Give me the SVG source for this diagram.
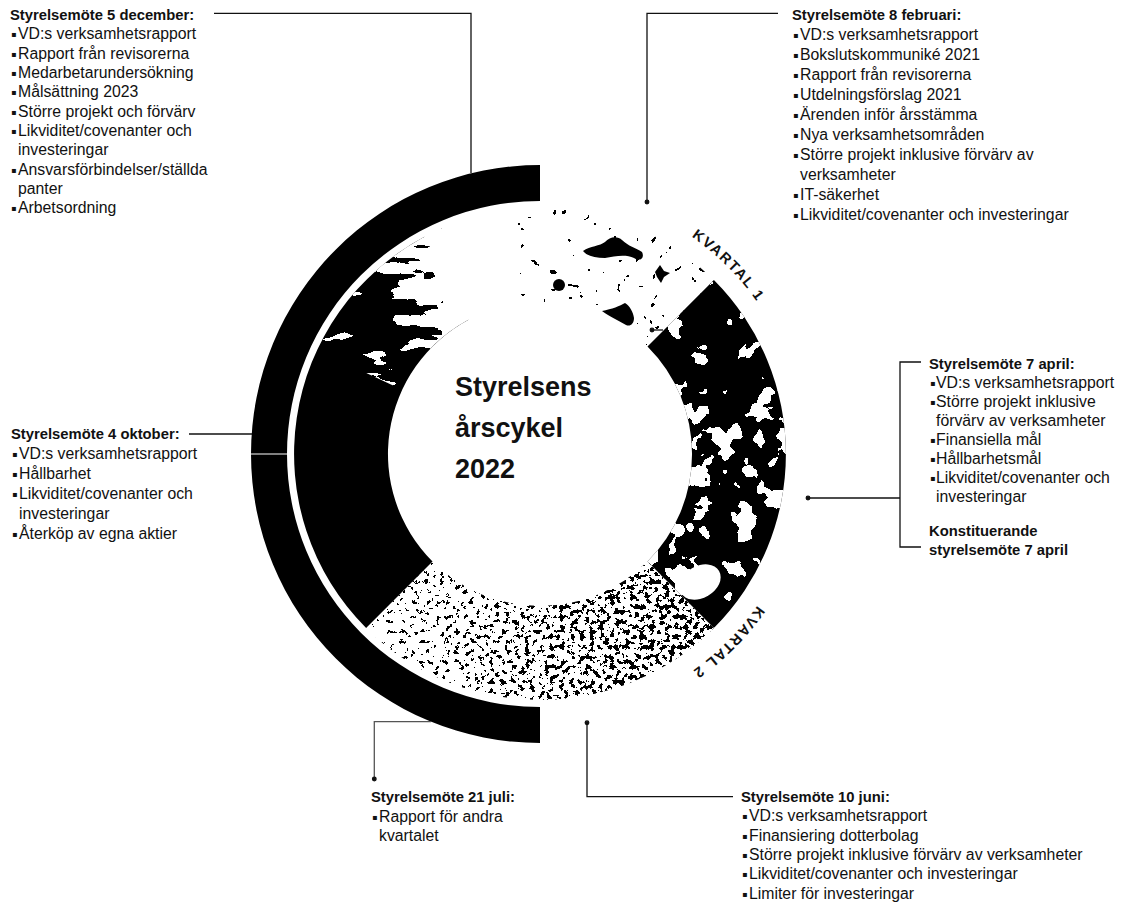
<svg xmlns="http://www.w3.org/2000/svg" width="1122" height="905" viewBox="0 0 1122 905">
<style>
.t{font-family:"Liberation Sans",Arial,sans-serif;font-size:15.8px;fill:#111}
.h{font-family:"Liberation Sans",Arial,sans-serif;font-size:14.8px;font-weight:bold;fill:#111}
.b{font-family:"DejaVu Sans",sans-serif;font-size:8px}
.c{fill:none;stroke:#111;stroke-width:1.3}
.d{fill:#111}
.q{font-family:"Liberation Sans",Arial,sans-serif;font-size:14.5px;font-weight:bold;letter-spacing:1.6px;fill:#111}
.big{font-family:"Liberation Sans",Arial,sans-serif;font-size:27px;font-weight:bold;fill:#111}
.k{fill:#000}
</style>
<defs>
<filter id="fSpeck" x="0" y="0" width="1" height="1" color-interpolation-filters="sRGB">
<feTurbulence type="fractalNoise" baseFrequency="0.2" numOctaves="4" seed="11" result="n"/>
<feColorMatrix in="n" type="matrix" values="1 0 0 0 0 0 1 0 0 0 0 0 1 0 0 0 0 0 0 1" result="n1"/>
<feComposite in="n1" in2="SourceGraphic" operator="arithmetic" k1="0" k2="1" k3="1" k4="-0.5" result="s"/>
<feColorMatrix in="s" type="matrix" values="0 0 0 0 0 0 0 0 0 0 0 0 0 0 0 1 0 0 0 0" result="a"/>
<feComponentTransfer in="a"><feFuncA type="discrete" tableValues="0 1"/></feComponentTransfer>
</filter>
<filter id="fHoles" x="0" y="0" width="1" height="1" color-interpolation-filters="sRGB">
<feTurbulence type="fractalNoise" baseFrequency="0.045" numOctaves="3" seed="4" result="n"/>
<feColorMatrix in="n" type="matrix" values="1 0 0 0 0 0 1 0 0 0 0 0 1 0 0 0 0 0 0 1" result="n1"/>
<feComposite in="n1" in2="SourceGraphic" operator="arithmetic" k1="0" k2="1" k3="1" k4="-0.5" result="s"/>
<feColorMatrix in="s" type="matrix" values="0 0 0 0 1 0 0 0 0 1 0 0 0 0 1 1 0 0 0 0" result="a"/>
<feComponentTransfer in="a"><feFuncA type="discrete" tableValues="0 1"/></feComponentTransfer>
</filter>
<filter id="fStreak" x="0" y="0" width="1" height="1" color-interpolation-filters="sRGB">
<feTurbulence type="fractalNoise" baseFrequency="0.02 0.07" numOctaves="3" seed="8" result="n"/>
<feColorMatrix in="n" type="matrix" values="1 0 0 0 0 0 1 0 0 0 0 0 1 0 0 0 0 0 0 1" result="n1"/>
<feComposite in="n1" in2="SourceGraphic" operator="arithmetic" k1="0" k2="1" k3="1" k4="-0.5" result="s"/>
<feColorMatrix in="s" type="matrix" values="0 0 0 0 1 0 0 0 0 1 0 0 0 0 1 1 0 0 0 0" result="a"/>
<feComponentTransfer in="a"><feFuncA type="discrete" tableValues="0 1"/></feComponentTransfer>
</filter>
<filter id="fDots" x="0" y="0" width="1" height="1" color-interpolation-filters="sRGB">
<feTurbulence type="fractalNoise" baseFrequency="0.12" numOctaves="2" seed="21" result="n"/>
<feColorMatrix in="n" type="matrix" values="1 0 0 0 0 0 1 0 0 0 0 0 1 0 0 0 0 0 0 1" result="n1"/>
<feComposite in="n1" in2="SourceGraphic" operator="arithmetic" k1="0" k2="1" k3="1" k4="-0.5" result="s"/>
<feColorMatrix in="s" type="matrix" values="0 0 0 0 0 0 0 0 0 0 0 0 0 0 0 1 0 0 0 0" result="a"/>
<feComponentTransfer in="a"><feFuncA type="discrete" tableValues="0 1"/></feComponentTransfer>
</filter>
<linearGradient id="gSpeck" gradientUnits="userSpaceOnUse" x1="714" y1="0" x2="366" y2="0">
<stop offset="0" stop-color="#787878"/><stop offset="0.5" stop-color="#6a6a6a"/><stop offset="1" stop-color="#505050"/>
</linearGradient>
<linearGradient id="gHoles" gradientUnits="userSpaceOnUse" x1="0" y1="280" x2="0" y2="630">
<stop offset="0" stop-color="#4a4a4a"/><stop offset="0.45" stop-color="#6e6e6e"/><stop offset="0.8" stop-color="#6c6c6c"/><stop offset="1" stop-color="#585858"/>
</linearGradient>
<linearGradient id="gStreak" gradientUnits="userSpaceOnUse" x1="386.8" y1="325.4" x2="478.2" y2="263.8">
<stop offset="0" stop-color="#555555"/><stop offset="0.35" stop-color="#8c8c8c"/><stop offset="0.7" stop-color="#c8c8c8"/><stop offset="1" stop-color="#ffffff"/>
</linearGradient>
<clipPath id="cBottom"><path d="M713.9 627.9 A246 246 0 0 1 366.1 627.9 L432.5 561.5 A152 152 0 0 0 647.5 561.5 Z"/></clipPath>
<clipPath id="cRight"><path d="M713.9 280.1 A246 246 0 0 1 713.9 627.9 L647.5 561.5 A152 152 0 0 0 647.5 346.5 Z"/></clipPath>
<clipPath id="cTop"><path d="M366.1 280.1 A246 246 0 0 1 713.9 280.1 L647.5 346.5 A152 152 0 0 0 432.5 346.5 Z"/></clipPath>
<clipPath id="cStreak"><path d="M317 350 A246 246 0 0 1 505.8 210.4 L518.8 303.5 A152 152 0 0 0 402.2 389.8 Z"/></clipPath>
<path id="qc" d="M540 189 A265 265 0 0 1 540 719 A265 265 0 0 1 540 189" fill="none"/>
</defs>
<rect width="1122" height="905" fill="#fff"/>

<g id="ring">
<path class="k" d="M540 165 A289 289 0 0 0 540 743 L540 707 A253 253 0 0 1 540 201 Z"/>
<line x1="250" y1="454" x2="288" y2="454" stroke="#fff" stroke-width="1"/>
<g clip-path="url(#cTop)"><rect x="360" y="205" width="360" height="145" fill="#444444" filter="url(#fDots)"/></g>
<path class="k" d="M366.1 627.9 A246 246 0 0 1 424.5 236.8 L468.6 319.8 A152 152 0 0 0 432.5 561.5 Z"/>
<g clip-path="url(#cStreak)"><rect x="310" y="205" width="215" height="190" fill="url(#gStreak)" filter="url(#fStreak)"/></g>
<path class="k" d="M713.9 280.1 A246 246 0 0 1 713.9 627.9 L647.5 561.5 A152 152 0 0 0 647.5 346.5 Z"/>
<g clip-path="url(#cRight)"><rect x="640" y="275" width="150" height="360" fill="url(#gHoles)" filter="url(#fHoles)"/>
<ellipse cx="700" cy="582" rx="22" ry="16" fill="#fff" transform="rotate(-30 700 582)"/></g>
<g clip-path="url(#cBottom)"><rect x="360" y="555" width="360" height="150" fill="url(#gSpeck)" filter="url(#fSpeck)"/></g>
<path class="k" d="M583 251 C590 246 600 246 605 242 C610 236 618 236 622 240 C628 246 636 248 642 252 C645 258 640 262 634 258 C626 254 615 256 605 258 C595 258 587 256 583 251 Z"/>
<path class="k" d="M602 311 C612 309 620 306 625 303 C630 306 633 312 634 318 C634 324 630 327 626 325 C618 320 608 316 602 311 Z"/>
<circle class="k" cx="559" cy="285" r="6"/>
<path class="k" d="M655 272 L660 265 L664 271 L670 273 L664 277 L661 283 L657 277 Z"/>
</g>

<g id="quarters">
<text class="q"><textPath href="#qc" startOffset="208" text-anchor="middle">KVARTAL 1</textPath></text>
<text class="q"><textPath href="#qc" startOffset="624" text-anchor="middle">KVARTAL 2</textPath></text>
</g>

<g id="title">
<text class="big" x="455" y="396">Styrelsens</text>
<text class="big" x="455" y="437">årscykel</text>
<text class="big" x="455" y="478">2022</text>
</g>

<g id="connectors" class="c">
<polyline points="214,13.3 471,13.3 471,173"/>
<polyline points="778,13.3 647,13.3 647,202"/>
<line x1="189" y1="434" x2="252" y2="434"/>
<polyline points="921,362 900,362 900,547 921,547"/>
<line x1="808" y1="498" x2="900" y2="498"/>
<polyline points="431,721.7 374.3,721.7 374.3,779" stroke="#555"/>
<polyline points="587,722.7 587,796.7 733,796.7"/>
<line x1="652" y1="330" x2="663" y2="330"/>
<circle class="d" cx="647" cy="202" r="1.8"/>
<circle class="d" cx="808" cy="498" r="1.8"/>
<circle class="d" cx="374.3" cy="779" r="1.8"/>
<circle class="d" cx="587" cy="722.7" r="1.8"/>
<circle class="d" cx="652" cy="330" r="1.8"/>
</g>

<g id="dec">
<text class="h" x="10" y="20">Styrelsemöte 5 december:</text>
<text class="t" y="39.4"><tspan class="b" x="11" dy="-2">▪</tspan><tspan x="18" dy="2">VD:s verksamhetsrapport</tspan></text>
<text class="t" y="58.7"><tspan class="b" x="11" dy="-2">▪</tspan><tspan x="18" dy="2">Rapport från revisorerna</tspan></text>
<text class="t" y="78"><tspan class="b" x="11" dy="-2">▪</tspan><tspan x="18" dy="2">Medarbetarundersökning</tspan></text>
<text class="t" y="97.4"><tspan class="b" x="11" dy="-2">▪</tspan><tspan x="18" dy="2">Målsättning 2023</tspan></text>
<text class="t" y="116.7"><tspan class="b" x="11" dy="-2">▪</tspan><tspan x="18" dy="2">Större projekt och förvärv</tspan></text>
<text class="t" y="136"><tspan class="b" x="11" dy="-2">▪</tspan><tspan x="18" dy="2">Likviditet/covenanter och</tspan></text>
<text class="t" x="18" y="155.4">investeringar</text>
<text class="t" y="174.7"><tspan class="b" x="11" dy="-2">▪</tspan><tspan x="18" dy="2">Ansvarsförbindelser/ställda</tspan></text>
<text class="t" x="18" y="194">panter</text>
<text class="t" y="213.4"><tspan class="b" x="11" dy="-2">▪</tspan><tspan x="18" dy="2">Arbetsordning</tspan></text>
</g>

<g id="feb">
<text class="h" x="792" y="20">Styrelsemöte 8 februari:</text>
<text class="t" y="40"><tspan class="b" x="793" dy="-2">▪</tspan><tspan x="800" dy="2">VD:s verksamhetsrapport</tspan></text>
<text class="t" y="60"><tspan class="b" x="793" dy="-2">▪</tspan><tspan x="800" dy="2">Bokslutskommuniké 2021</tspan></text>
<text class="t" y="80"><tspan class="b" x="793" dy="-2">▪</tspan><tspan x="800" dy="2">Rapport från revisorerna</tspan></text>
<text class="t" y="100"><tspan class="b" x="793" dy="-2">▪</tspan><tspan x="800" dy="2">Utdelningsförslag 2021</tspan></text>
<text class="t" y="120"><tspan class="b" x="793" dy="-2">▪</tspan><tspan x="800" dy="2">Ärenden inför årsstämma</tspan></text>
<text class="t" y="140"><tspan class="b" x="793" dy="-2">▪</tspan><tspan x="800" dy="2">Nya verksamhetsområden</tspan></text>
<text class="t" y="160"><tspan class="b" x="793" dy="-2">▪</tspan><tspan x="800" dy="2">Större projekt inklusive förvärv av</tspan></text>
<text class="t" x="800" y="180">verksamheter</text>
<text class="t" y="200"><tspan class="b" x="793" dy="-2">▪</tspan><tspan x="800" dy="2">IT-säkerhet</tspan></text>
<text class="t" y="220"><tspan class="b" x="793" dy="-2">▪</tspan><tspan x="800" dy="2">Likviditet/covenanter och investeringar</tspan></text>
</g>

<g id="apr">
<text class="h" x="929" y="368.5">Styrelsemöte 7 april:</text>
<text class="t" y="387.5"><tspan class="b" x="930" dy="-2">▪</tspan><tspan x="936" dy="2">VD:s verksamhetsrapport</tspan></text>
<text class="t" y="406.5"><tspan class="b" x="930" dy="-2">▪</tspan><tspan x="936" dy="2">Större projekt inklusive</tspan></text>
<text class="t" x="936" y="425.5">förvärv av verksamheter</text>
<text class="t" y="444.5"><tspan class="b" x="930" dy="-2">▪</tspan><tspan x="936" dy="2">Finansiella mål</tspan></text>
<text class="t" y="463.5"><tspan class="b" x="930" dy="-2">▪</tspan><tspan x="936" dy="2">Hållbarhetsmål</tspan></text>
<text class="t" y="482.5"><tspan class="b" x="930" dy="-2">▪</tspan><tspan x="936" dy="2">Likviditet/covenanter och</tspan></text>
<text class="t" x="936" y="501.5">investeringar</text>
<text class="h" x="929" y="536">Konstituerande</text>
<text class="h" x="929" y="555">styrelsemöte 7 april</text>
</g>

<g id="oct">
<text class="h" x="11" y="439">Styrelsemöte 4 oktober:</text>
<text class="t" y="459"><tspan class="b" x="12" dy="-2">▪</tspan><tspan x="19" dy="2">VD:s verksamhetsrapport</tspan></text>
<text class="t" y="479"><tspan class="b" x="12" dy="-2">▪</tspan><tspan x="19" dy="2">Hållbarhet</tspan></text>
<text class="t" y="499"><tspan class="b" x="12" dy="-2">▪</tspan><tspan x="19" dy="2">Likviditet/covenanter och</tspan></text>
<text class="t" x="19" y="519">investeringar</text>
<text class="t" y="539"><tspan class="b" x="12" dy="-2">▪</tspan><tspan x="19" dy="2">Återköp av egna aktier</tspan></text>
</g>

<g id="jul">
<text class="h" x="371" y="802">Styrelsemöte 21 juli:</text>
<text class="t" y="821.5"><tspan class="b" x="372" dy="-2">▪</tspan><tspan x="379" dy="2">Rapport för andra</tspan></text>
<text class="t" x="379" y="841">kvartalet</text>
</g>

<g id="jun">
<text class="h" x="741" y="802">Styrelsemöte 10 juni:</text>
<text class="t" y="821.3"><tspan class="b" x="742" dy="-2">▪</tspan><tspan x="749" dy="2">VD:s verksamhetsrapport</tspan></text>
<text class="t" y="840.6"><tspan class="b" x="742" dy="-2">▪</tspan><tspan x="749" dy="2">Finansiering dotterbolag</tspan></text>
<text class="t" y="859.9"><tspan class="b" x="742" dy="-2">▪</tspan><tspan x="749" dy="2">Större projekt inklusive förvärv av verksamheter</tspan></text>
<text class="t" y="879.2"><tspan class="b" x="742" dy="-2">▪</tspan><tspan x="749" dy="2">Likviditet/covenanter och investeringar</tspan></text>
<text class="t" y="898.5"><tspan class="b" x="742" dy="-2">▪</tspan><tspan x="749" dy="2">Limiter för investeringar</tspan></text>
</g>
</svg>
